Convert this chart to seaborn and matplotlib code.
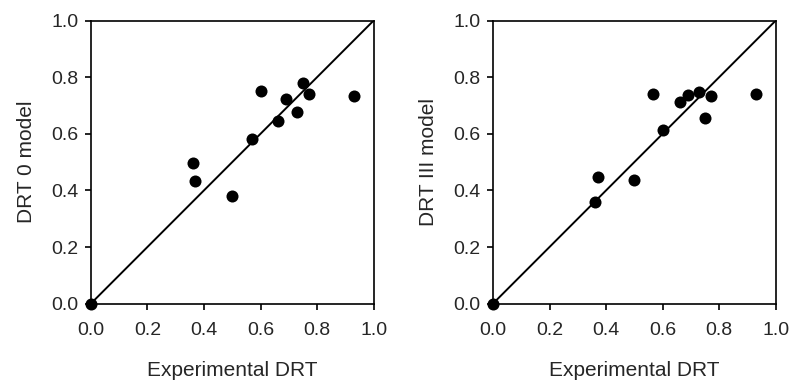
import numpy as np
import pandas as pd
import seaborn as sns
import matplotlib
matplotlib.use('Agg')
import matplotlib.pyplot as plt

# experimental vs model DRT values
exp_drt0 = [0.0, 0.36, 0.37, 0.50, 0.57, 0.60, 0.66, 0.69, 0.73, 0.75, 0.77, 0.93]
model_drt0 = [0.0, 0.497, 0.432, 0.379, 0.58, 0.751, 0.645, 0.723, 0.677, 0.781, 0.740, 0.733]

exp_drt3 = [0.0, 0.36, 0.37, 0.50, 0.566, 0.60, 0.66, 0.69, 0.73, 0.75, 0.77, 0.93]
model_drt3 = [0.0, 0.359, 0.448, 0.435, 0.741, 0.614, 0.713, 0.738, 0.748, 0.657, 0.734, 0.739]

ticks = [0.0, 0.2, 0.4, 0.6, 0.8, 1.0]
ylabels = ['DRT 0 model', 'DRT III model']

sns.set_style('ticks')
plt.rcParams['font.family'] = ['Liberation Sans', 'DejaVu Sans']

fig = plt.figure(figsize=(7.9, 3.8), dpi=100)
ax1 = fig.add_axes([0.115, 0.201, 0.358, 0.745])
ax2 = fig.add_axes([0.624, 0.201, 0.358, 0.745])

for ax, xs, ys, lab in [(ax1, exp_drt0, model_drt0, ylabels[0]),
                        (ax2, exp_drt3, model_drt3, ylabels[1])]:
    df = pd.DataFrame({'exp': xs, 'model': ys})
    # 1:1 line
    ax.plot([0, 1], [0, 1], color='black', lw=1.4, zorder=1)
    sns.scatterplot(data=df, x='exp', y='model', ax=ax, color='black',
                    s=75, edgecolor='black', linewidth=0, zorder=3, clip_on=False)
    ax.set_xlim(0, 1)
    ax.set_ylim(0, 1)
    ax.set_xticks(ticks)
    ax.set_yticks(ticks)
    ax.set_xticklabels(['%.1f' % t for t in ticks], fontsize=14)
    ax.set_yticklabels(['%.1f' % t for t in ticks], fontsize=14)
    ax.tick_params(axis='x', direction='out', length=4, width=1.2, color='black', pad=9)
    ax.tick_params(axis='y', direction='out', length=4, width=1.2, color='black', pad=5)
    for sp in ax.spines.values():
        sp.set_visible(True)
        sp.set_linewidth(1.2)
        sp.set_color('black')
    ax.set_xlabel('Experimental DRT', fontsize=15, labelpad=16)
    ax.set_ylabel(lab, fontsize=15, labelpad=11)

fig.savefig('out.png', dpi=100)
plt.close()
